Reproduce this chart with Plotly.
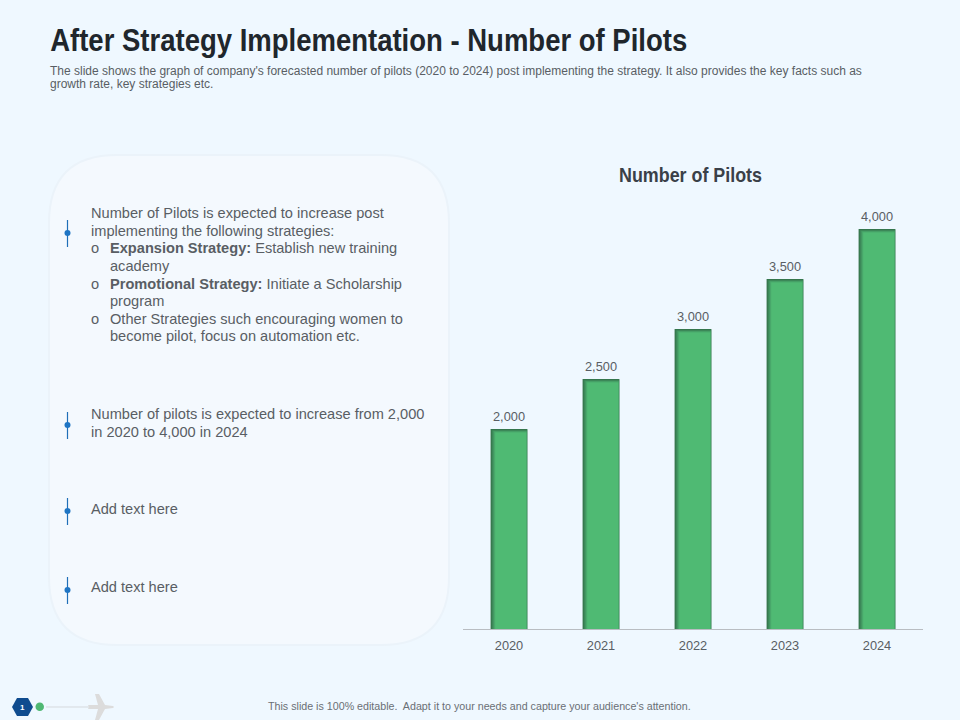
import plotly.graph_objects as go

years = ['2020', '2021', '2022', '2023', '2024']
pilots = [2000, 2500, 3000, 3500, 4000]

# dark-to-light steps used for the soft inner shadow on the bars
shade_colors = ['#35734b', '#3a8154', '#3f8f5d', '#459d65', '#4aab6c', '#4fba73']

title_text = 'After Strategy Implementation - Number of Pilots'
chart_title = 'Number of Pilots'
subtitle_lines = [
    "The slide shows the graph of company's forecasted number of pilots (2020 to 2024) post implementing the strategy. It also provides the key facts such as",
    'growth rate, key strategies etc.',
]
body_lines = [
    (91, 213, 'Number of Pilots is expected to increase post'),
    (91, 231, 'implementing the following strategies:'),
    (91, 248, 'o'),
    (110, 248, '<b>Expansion Strategy:</b> Establish new training'),
    (110, 266, 'academy'),
    (91, 284, 'o'),
    (110, 284, '<b>Promotional Strategy:</b> Initiate a Scholarship'),
    (110, 301, 'program'),
    (91, 319, 'o'),
    (110, 319, 'Other Strategies such encouraging women to'),
    (110, 336, 'become pilot, focus on automation etc.'),
    (91, 414, 'Number of pilots is expected to increase from 2,000'),
    (91, 432, 'in 2020 to 4,000 in 2024'),
    (91, 509, 'Add text here'),
    (91, 587, 'Add text here'),
]
bullet_rows = [233, 425, 511, 590]
footer_text = "This slide is 100% editable.  Adapt it to your needs and capture your audience's attention."

FONT = 'Liberation Sans'
BG = '#eff8ff'
TEXT = '#595e64'


def rounded_rect(x0, y0, x1, y1, r):
    return (f'M{x0 + r},{y0} L{x1 - r},{y0} Q{x1},{y0} {x1},{y0 + r} L{x1},{y1 - r} Q{x1},{y1} {x1 - r},{y1} '
            f'L{x0 + r},{y1} Q{x0},{y1} {x0},{y1 - r} L{x0},{y0 + r} Q{x0},{y0} {x0 + r},{y0} Z')


fig = go.Figure()

# stacked overlay bars fake the inner shadow, left edge is wider than the right one
for i, color in enumerate(shade_colors):
    fig.add_trace(go.Bar(
        x=years,
        y=[v - i * 7 for v in pilots],
        width=0.4 - i * 0.0125,
        offset=-0.2 + i * 0.01,
        marker=dict(color=color, line_width=0),
        hoverinfo='skip' if i else None,
        showlegend=False,
    ))

# invisible pixel-sized axes for the slide furniture around the chart
fig.add_trace(go.Scatter(x=[0], y=[0], xaxis='x2', yaxis='y2', mode='markers',
                         marker_opacity=0, showlegend=False, hoverinfo='skip'))

shapes = [
    dict(type='path', path=rounded_rect(49, 155, 449, 645, 68), layer='below', xref='x2', yref='y2',
         fillcolor='#f4f9fe', line=dict(color='#ebf3fa', width=2)),
    dict(type='line', x0=46, x1=90, y0=707, y1=707, layer='below', xref='x2', yref='y2',
         line=dict(color='#d5d9dd', width=1)),
    # little plane
    dict(type='path', layer='below', xref='x2', yref='y2', fillcolor='#dcdcdc', line_width=0,
         path='M88,705 L98,705 L95,694 L99,694 L105,705 L113,706 L114,707 L113,708 L105,709 L99,720 L95,720 '
              'L98,709 L88,709 L89,707 Z'),
    # page number hexagon
    dict(type='path', layer='above', xref='x2', yref='y2', fillcolor='#0f4c8f', line_width=0,
         path='M12,707 L17,698 L28,698 L33,707 L28,716 L17,716 Z'),
    dict(type='circle', x0=35.5, x1=44, y0=702.5, y1=711, xref='x2', yref='y2',
         fillcolor='#4fb873', line_width=0),
]
for row in bullet_rows:
    shapes.append(dict(type='line', x0=67.5, x1=67.5, y0=row - 13, y1=row + 14, xref='x2', yref='y2',
                       line=dict(color='#1f6fb8', width=1.2)))
    shapes.append(dict(type='circle', x0=64.5, x1=70.5, y0=row - 3, y1=row + 3, xref='x2', yref='y2',
                       fillcolor='#1f75c4', line_width=0))


def label(x, y, text, size, color=TEXT, xanchor='left'):
    return dict(x=x, y=y, text=text, xref='x2', yref='y2', showarrow=False, xanchor=xanchor, yanchor='middle',
                align=xanchor, borderpad=0, borderwidth=0, font=dict(family=FONT, size=size, color=color))


annotations = [label(368.5, 40, f'<b>{title_text}</b>', 32, '#20262c', xanchor='center')]
annotations += [label(50, 71 + 12.5 * i, line, 12) for i, line in enumerate(subtitle_lines)]
annotations += [label(x, y, text, 14.6) for x, y, text in body_lines]
annotations.append(label(22.5, 707, '<b>1</b>', 8, 'white', xanchor='center'))
annotations.append(label(479.5, 706, footer_text, 10.7, '#6a6f75', xanchor='center'))
# value labels sit on the real bar scale; numeric-looking categories have to be addressed by index
annotations += [dict(x=i, y=v, text=f'{v:,}', xref='x', yref='y', showarrow=False, yanchor='bottom', yshift=5,
                     borderpad=0, borderwidth=0, font=dict(family=FONT, size=12.8, color=TEXT))
                for i, v in enumerate(pilots)]

fig.update_layout(
    width=960,
    height=720,
    margin=dict(l=0, r=0, t=0, b=0),
    paper_bgcolor=BG,
    plot_bgcolor='rgba(0,0,0,0)',
    barmode='overlay',
    font=dict(family=FONT),
    title=dict(
        text=f'<b>{chart_title}</b>',
        font=dict(family=FONT, size=20.5, color='#3a4048'),
        x=690.5 / 960,
        xanchor='center',
        y=1 - 175 / 720,
        yanchor='middle',
    ),
    xaxis=dict(
        domain=[463 / 960, 923 / 960],
        type='category',
        showgrid=False,
        zeroline=False,
        showline=True,
        linecolor='#b9bdc2',
        linewidth=1,
        ticks='outside',
        ticklen=5,
        tickcolor='rgba(0,0,0,0)',
        tickfont=dict(family=FONT, size=12.8, color=TEXT),
    ),
    yaxis=dict(
        domain=[91 / 720, 541 / 720],
        range=[0, 4500],
        visible=False,
    ),
    xaxis2=dict(domain=[0, 1], range=[0, 960], visible=False, anchor='y2'),
    yaxis2=dict(domain=[0, 1], range=[720, 0], visible=False, anchor='x2'),
    shapes=shapes,
    annotations=annotations,
)

# no margin on the page, and squeeze the two headings since no narrow bold font is installed
post_script = """
document.body.style.margin = '0';
function squeeze(el, width) {
    el.setAttribute('textLength', width);
    el.setAttribute('lengthAdjust', 'spacingAndGlyphs');
}
document.querySelectorAll('.annotation-text').forEach(function (el) {
    if (el.textContent.startsWith('After Strategy')) squeeze(el, 637);
});
document.querySelectorAll('.gtitle').forEach(function (el) { squeeze(el, 143); });
"""
fig.write_html('out.html', config=dict(displayModeBar=False), post_script=post_script)
